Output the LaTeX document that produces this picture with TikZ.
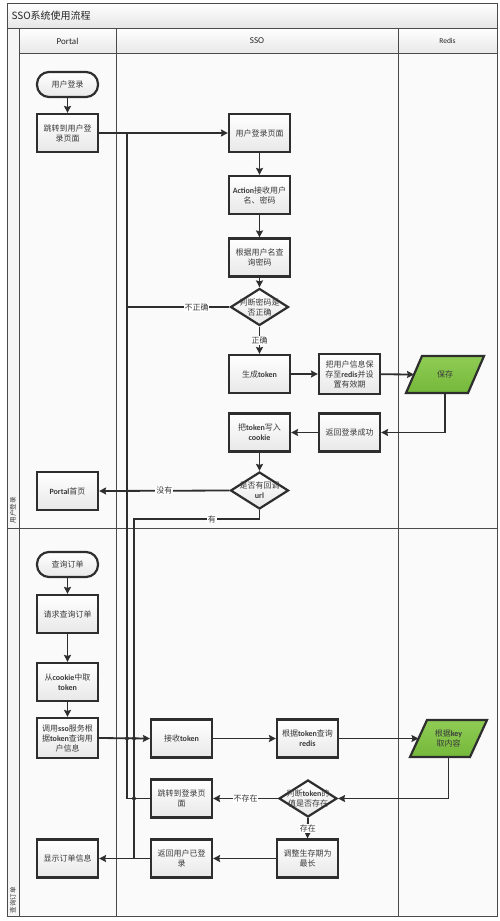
\documentclass[tikz,border=0pt]{standalone}
\usepackage{fontspec}
\setmainfont{Noto Sans CJK SC}
\newfontfamily\latf{Carlito}
\usetikzlibrary{arrows.meta,shapes.geometric}
\newcommand\lbx[1]{{\latf\bfseries #1}}
\definecolor{edge}{HTML}{2E2E2E}
\definecolor{txt}{HTML}{3A3A3A}
\definecolor{grn}{HTML}{74B83A}
\definecolor{grnL}{HTML}{90CC55}
\definecolor{lanebg}{HTML}{FAFAFA}
\definecolor{frm}{HTML}{4A4A4A}
\begin{document}
\begin{tikzpicture}[x=1pt,y=-1pt,
  base/.style={font=\fontsize{8}{10}\selectfont, text=txt, align=center},
  box/.style={base, draw=edge, line width=2.2pt, top color=white, bottom color=black!9, minimum width=61pt, minimum height=38pt, inner sep=1pt},
  term/.style={box, rounded corners=12pt, minimum height=25pt},
  dia/.style={diamond, draw=edge, line width=2.2pt, top color=white, bottom color=black!9, minimum width=58pt, minimum height=37pt, inner sep=0pt},
  dtxt/.style={base},
  para/.style={draw=edge, line width=2.2pt, top color=grnL, bottom color=grn},
  conn/.style={draw=edge, line width=1.8pt},
  arr/.style={conn, -{Stealth[length=7pt,width=7pt,inset=1pt]}},
  lbl/.style={base, fill=white, inner sep=0.8pt},
  frame/.style={draw=frm, line width=0.7pt},
  hdr/.style={font=\latf\fontsize{9}{10}\selectfont, text=black!85},
  lanelbl/.style={font=\fontsize{6.5}{7}\selectfont, text=txt, rotate=90}
]
\useasboundingbox (0,0) rectangle (500,921);
% ---------- frame ----------
\fill[white] (0,0) rectangle (500,921);
\fill[lanebg] (7,53) rectangle (497,916);
\shade[top color=white, bottom color=black!10] (7,3) rectangle (497,28);
\shade[top color=white, bottom color=black!9] (19,28) rectangle (497,53);
\fill[black!4] (7,28) rectangle (19,916);
\draw[frame] (7,3) rectangle (497,916);
\draw[frame] (7,28) -- (497,28);
\draw[frame] (19,28) -- (19,916);
\draw[frame] (19,53) -- (497,53);
\draw[frame] (116,28) -- (116,916);
\draw[frame] (398,28) -- (398,916);
\draw[frame] (7,528) -- (497,528);
\node[anchor=west, font=\fontsize{10}{12}\selectfont, text=black!85] (title) at (8,15.5) {SSO系统使用流程};
\node[hdr] (hP) at (67.5,41) {Portal};
\node[hdr] (hS) at (257,41) {SSO};
\node[hdr, font=\latf\fontsize{7.5}{9}\selectfont] (hR) at (447.5,41) {Redis};
\node[lanelbl] (l1) at (13,510) {用户登录};
\node[lanelbl] (l2) at (13,900) {查询订单};
% ---------- lane 1 ----------
\node[term] (p1) at (67.5,84.5) {用户登录};
\node[box] (p2) at (67.5,133) {跳转到用户登\\录页面};
\node[box] (s1) at (259.5,133) {用户登录页面};
\node[box] (s2) at (259.5,195) {\lbx{Action}接收用户\\名、密码};
\node[box] (s3) at (259.5,257.5) {根据用户名查\\询密码};
\node[dia] (d1) at (259.5,307) {};
\node[dtxt] (d1t) at (d1) {判断密码是\\否正确};
\node[box] (s4) at (259.5,374) {生成\lbx{token}};
\node[box, minimum height=40pt] (s5) at (349.5,374) {把用户信息保\\存至\lbx{redis}并设\\置有效期};
\path[para] (406,393) -- (422,356) -- (484,356) -- (468,393) -- cycle;
\node[base] (r1) at (445,374.5) {保存};
\coordinate (r1w) at (414,374.5);
\coordinate (r1s) at (445,393);
\node[box] (s6) at (349.5,432.5) {返回登录成功};
\node[box] (s7) at (259.5,432.5) {把\lbx{token}写入\\\lbx{cookie}};
\node[dia] (d2) at (259.5,490.5) {};
\node[dtxt] (d2t) at (d2) {是否有回调\\\lbx{url}};
\node[box] (p3) at (67.5,491) {\lbx{Portal}首页};
% ---------- lane 2 ----------
\node[term] (p4) at (67.5,564.5) {查询订单};
\node[box] (p5) at (67.5,614) {请求查询订单};
\node[box] (p6) at (67.5,682) {从\lbx{cookie}中取\\\lbx{token}};
\node[box, minimum height=40pt] (p7) at (67.5,738) {调用\lbx{sso}服务根\\据\lbx{token}查询用\\户信息};
\node[box] (s8) at (181.5,738.5) {接收\lbx{token}};
\node[box] (s9) at (307.5,738.5) {根据\lbx{token}查询\\\lbx{redis}};
\path[para] (410,757) -- (427,720) -- (487,720) -- (470,757) -- cycle;
\node[base] (r2) at (448.5,738.5) {根据\lbx{key}\\取内容};
\coordinate (r2w) at (418.5,738.5);
\coordinate (r2s) at (448.5,757);
\node[dia] (d3) at (308,798.5) {};
\node[dtxt] (d3t) at (d3) {判断\lbx{token}的\\值是否存在};
\node[box] (s10) at (181.5,798.5) {跳转到登录页\\面};
\node[box] (s11) at (307.5,858.5) {调整生存期为\\最长};
\node[box] (s12) at (181.5,858.5) {返回用户已登\\录};
\node[box] (p8) at (67.5,858.5) {显示订单信息};
% ---------- junction coordinates ----------
\coordinate (jA) at (127,133);
\coordinate (jB) at (134,519);
\coordinate (jC) at (134,858.5);
% ---------- connectors lane 1 ----------
\draw[arr] (p1) -- (p2);
\draw[arr] (p2) -- (s1);
\draw[arr] (s1) -- (s2);
\draw[arr] (s2) -- (s3);
\draw[arr] (s3) -- (d1);
\draw[conn] (d1.west) -- node[lbl,pos=0.32]{不正确} (d1.west -| jA) -- (jA);
\draw[arr] (d1.south) -- node[lbl]{正确} (s4);
\draw[arr] (s4) -- (s5);
\draw[arr] (s5) -- (r1w);
\draw[arr] (r1s) |- (s6.east);
\draw[arr] (s6) -- (s7);
\draw[arr] (s7) -- (d2.north);
\draw[arr] (d2.west) -- node[lbl]{没有} (p3.east);
\draw[conn] (d2.south) |- node[lbl,pos=0.69]{有} (jB) -- (jC);
% ---------- connectors lane 2 ----------
\draw[arr] (p4) -- (p5);
\draw[arr] (p5) -- (p6);
\draw[arr] (p6) -- (p7);
\draw[arr] (p7.east) -- (s8.west);
\draw[arr] (s8) -- (s9);
\draw[arr] (s9) -- (r2w);
\draw[arr] (r2s) |- (d3.east);
\draw[arr] (d3.west) -- node[lbl]{不存在} (s10.east);
\draw[arr] (d3.south) -- node[lbl]{存在} (s11.north);
\draw[arr] (s11) -- (s12);
\draw[arr] (s12) -- (p8);
\draw[conn] (s10.west) -- (s10.west -| jA) -- (jA);
% ---------- junction dots ----------
\fill[edge] (127,738.5) circle[radius=2pt];
\fill[edge] (134,738.5) circle[radius=2pt];
\fill[edge] (134,798.5) circle[radius=2pt];
\end{tikzpicture}
\end{document}
